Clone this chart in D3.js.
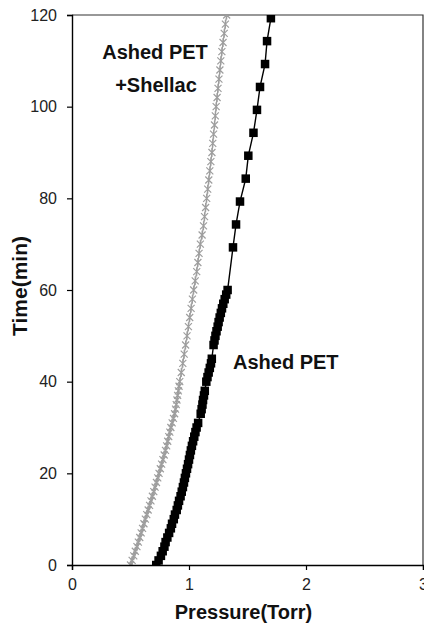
<!DOCTYPE html>
<html>
<head>
<meta charset="utf-8">
<script src="https://cdn.jsdelivr.net/npm/d3@7"></script>
<style>
  html, body { margin: 0; padding: 0; background: #fff; }
  svg { display: block; font-family: "Liberation Sans", Arial, sans-serif; }
</style>
</head>
<body>
<svg id="chart" width="424" height="626"></svg>
<script>
"use strict";

// Ashed PET + Shellac (grey stars)
var shellacTime = [
  0, 1, 2, 3, 4, 5, 6, 7, 8, 9, 10, 11, 12, 13, 14, 15, 16, 17, 18, 19, 20,
  21, 22, 23, 24, 25, 26, 27, 28, 29, 30, 31, 32, 33, 34, 35, 36, 37, 38, 39, 40,
  42, 44, 46, 48, 50, 52, 54, 56, 58, 60, 62, 64, 66, 68, 70, 72, 74, 76, 78, 80,
  82, 84, 86, 88, 90, 92, 94, 96, 98, 100, 102, 104, 106, 108, 110, 112, 114, 116, 118, 120
];
var shellacPressure = [
  0.500, 0.514, 0.528, 0.541, 0.555, 0.567, 0.579, 0.591, 0.603, 0.615, 0.627,
  0.639, 0.651, 0.663, 0.675, 0.687, 0.699, 0.710, 0.722, 0.733, 0.744,
  0.755, 0.766, 0.777, 0.788, 0.799, 0.809, 0.818, 0.827, 0.836, 0.845,
  0.856, 0.867, 0.877, 0.885, 0.891, 0.897, 0.903, 0.909, 0.915, 0.921,
  0.934, 0.947, 0.959, 0.971, 0.983, 0.995, 1.006, 1.018, 1.029, 1.040,
  1.053, 1.066, 1.076, 1.086, 1.097, 1.112, 1.124, 1.133, 1.142, 1.151,
  1.160, 1.169, 1.178, 1.187, 1.196, 1.203, 1.210, 1.218, 1.225, 1.232,
  1.240, 1.248, 1.256, 1.264, 1.272, 1.281, 1.291, 1.301, 1.311, 1.322
];

// Ashed PET (black squares)
var ashedTime = [
  0, 1, 2, 3, 4, 5, 6, 7, 8, 9, 10, 11, 12, 13, 14, 15, 16, 17, 18, 19, 20,
  21, 22, 23, 24, 25, 26, 27, 28, 29, 30, 31, 33, 34, 35, 36, 37, 38,
  40, 41, 42, 43, 44, 45, 48, 49, 50, 51, 52, 53, 54, 55, 56, 57, 58, 59, 60,
  69.3, 74.3, 79.3, 84.3, 89.3, 94.3, 99.3, 104.3, 109.3, 114.3, 119.3
];
var ashedPressure = [
  0.720, 0.740, 0.760, 0.775, 0.790, 0.800, 0.815, 0.830, 0.845, 0.855, 0.870,
  0.880, 0.895, 0.905, 0.915, 0.928, 0.938, 0.948, 0.957, 0.965, 0.974,
  0.983, 0.992, 1.000, 1.008, 1.016, 1.025, 1.035, 1.045, 1.055, 1.065,
  1.078, 1.100, 1.108, 1.115, 1.120, 1.128, 1.135,
  1.148, 1.158, 1.168, 1.178, 1.188, 1.195, 1.210, 1.218, 1.226, 1.235,
  1.245, 1.253, 1.262, 1.272, 1.282, 1.293, 1.305, 1.318, 1.330,
  1.376, 1.402, 1.436, 1.485, 1.507, 1.551, 1.581, 1.607, 1.650, 1.667, 1.700
];

var xTicks = [0, 1, 2, 3];
var yTicks = [0, 20, 40, 60, 80, 100, 120];
var xTitle = "Pressure(Torr)";
var yTitle = "Time(min)";
var labelShellac = ["Ashed PET", "+Shellac"];
var labelAshed = "Ashed PET";

const CHART = (function() {
  var _svg = d3.select("#chart");
  var _left = 72, _right = 423, _top = 15, _bottom = 565;
  var _sq = 8.5;

  var x = d3.scaleLinear().domain([0, 3]).range([_left, _right]);
  var y = d3.scaleLinear().domain([0, 120]).range([_bottom, _top]);

  function zip(ts, ps) {
    return ts.map(function(t, i) { return { t: t, p: ps[i] }; });
  }

  _svg.append("clipPath").attr("id", "plot-clip")
    .append("rect")
    .attr("x", _left).attr("y", _top)
    .attr("width", _right - _left).attr("height", _bottom - _top);

  // frame (top and right)
  _svg.append("path")
    .attr("d", "M" + _left + "," + _top + "H" + _right + "V" + _bottom)
    .attr("fill", "none").attr("stroke", "#333").attr("stroke-width", 1.2);

  var plot = _svg.append("g").attr("clip-path", "url(#plot-clip)");
  var line = d3.line().x(function(d) { return x(d.p); }).y(function(d) { return y(d.t); });

  // grey series
  var shellac = zip(shellacTime, shellacPressure);
  plot.append("path").datum(shellac)
    .attr("d", line).attr("fill", "none")
    .attr("stroke", "#9c9c9c").attr("stroke-width", 1.2);
  var star = "M-3.5,-3.5L3.5,3.5M-3.5,3.5L3.5,-3.5M0,-4.5V4.5";
  plot.append("g").selectAll("path").data(shellac).join("path")
    .attr("transform", function(d) { return "translate(" + x(d.p) + "," + y(d.t) + ")"; })
    .attr("d", star).attr("fill", "none")
    .attr("stroke", "#9e9e9e").attr("stroke-width", 1.2);

  // black series
  var ashed = zip(ashedTime, ashedPressure);
  plot.append("path").datum(ashed)
    .attr("d", line).attr("fill", "none")
    .attr("stroke", "#000").attr("stroke-width", 1.4);
  plot.append("g").selectAll("rect").data(ashed).join("rect")
    .attr("x", function(d) { return x(d.p) - _sq / 2; })
    .attr("y", function(d) { return y(d.t) - _sq / 2; })
    .attr("width", _sq).attr("height", _sq)
    .attr("fill", "#000");

  // axes
  var xAxis = d3.axisBottom(x).tickValues(xTicks).tickSize(5).tickPadding(9)
    .tickFormat(d3.format("d"));
  var yAxis = d3.axisLeft(y).tickValues(yTicks).tickSize(5).tickPadding(10)
    .tickFormat(d3.format("d"));

  var gx = _svg.append("g").attr("transform", "translate(0," + _bottom + ")").call(xAxis);
  var gy = _svg.append("g").attr("transform", "translate(" + _left + ",0)").call(yAxis);
  [gx, gy].forEach(function(g) {
    g.select(".domain").attr("stroke", "#000").attr("stroke-width", 1.4);
    g.selectAll(".tick line").attr("stroke", "#000").attr("stroke-width", 1.2);
    g.selectAll(".tick text").attr("fill", "#222")
      .style("font-size", "16px").style("font-family", "'Liberation Sans', Arial, sans-serif");
  });

  // titles
  _svg.append("text")
    .attr("x", (_left + _right) / 2 - 4).attr("y", 619)
    .attr("text-anchor", "middle")
    .style("font-size", "20px").style("font-weight", "bold").attr("fill", "#111")
    .text(xTitle);
  _svg.append("text")
    .attr("transform", "translate(27,286) rotate(-90)")
    .attr("text-anchor", "middle")
    .style("font-size", "21px").style("font-weight", "bold").attr("fill", "#111")
    .text(yTitle);

  // series labels
  _svg.append("text")
    .attr("x", 155).attr("y", 59)
    .attr("text-anchor", "middle")
    .style("font-size", "20px").style("font-weight", "bold").attr("fill", "#111")
    .text(labelShellac[0]);
  _svg.append("text")
    .attr("x", 156).attr("y", 92)
    .attr("text-anchor", "middle")
    .style("font-size", "20px").style("font-weight", "bold").attr("fill", "#111")
    .text(labelShellac[1]);
  _svg.append("text")
    .attr("x", 233).attr("y", 369)
    .style("font-size", "20px").style("font-weight", "bold").attr("fill", "#111")
    .text(labelAshed);

  return { x: x, y: y };
}());
</script>
</body>
</html>
